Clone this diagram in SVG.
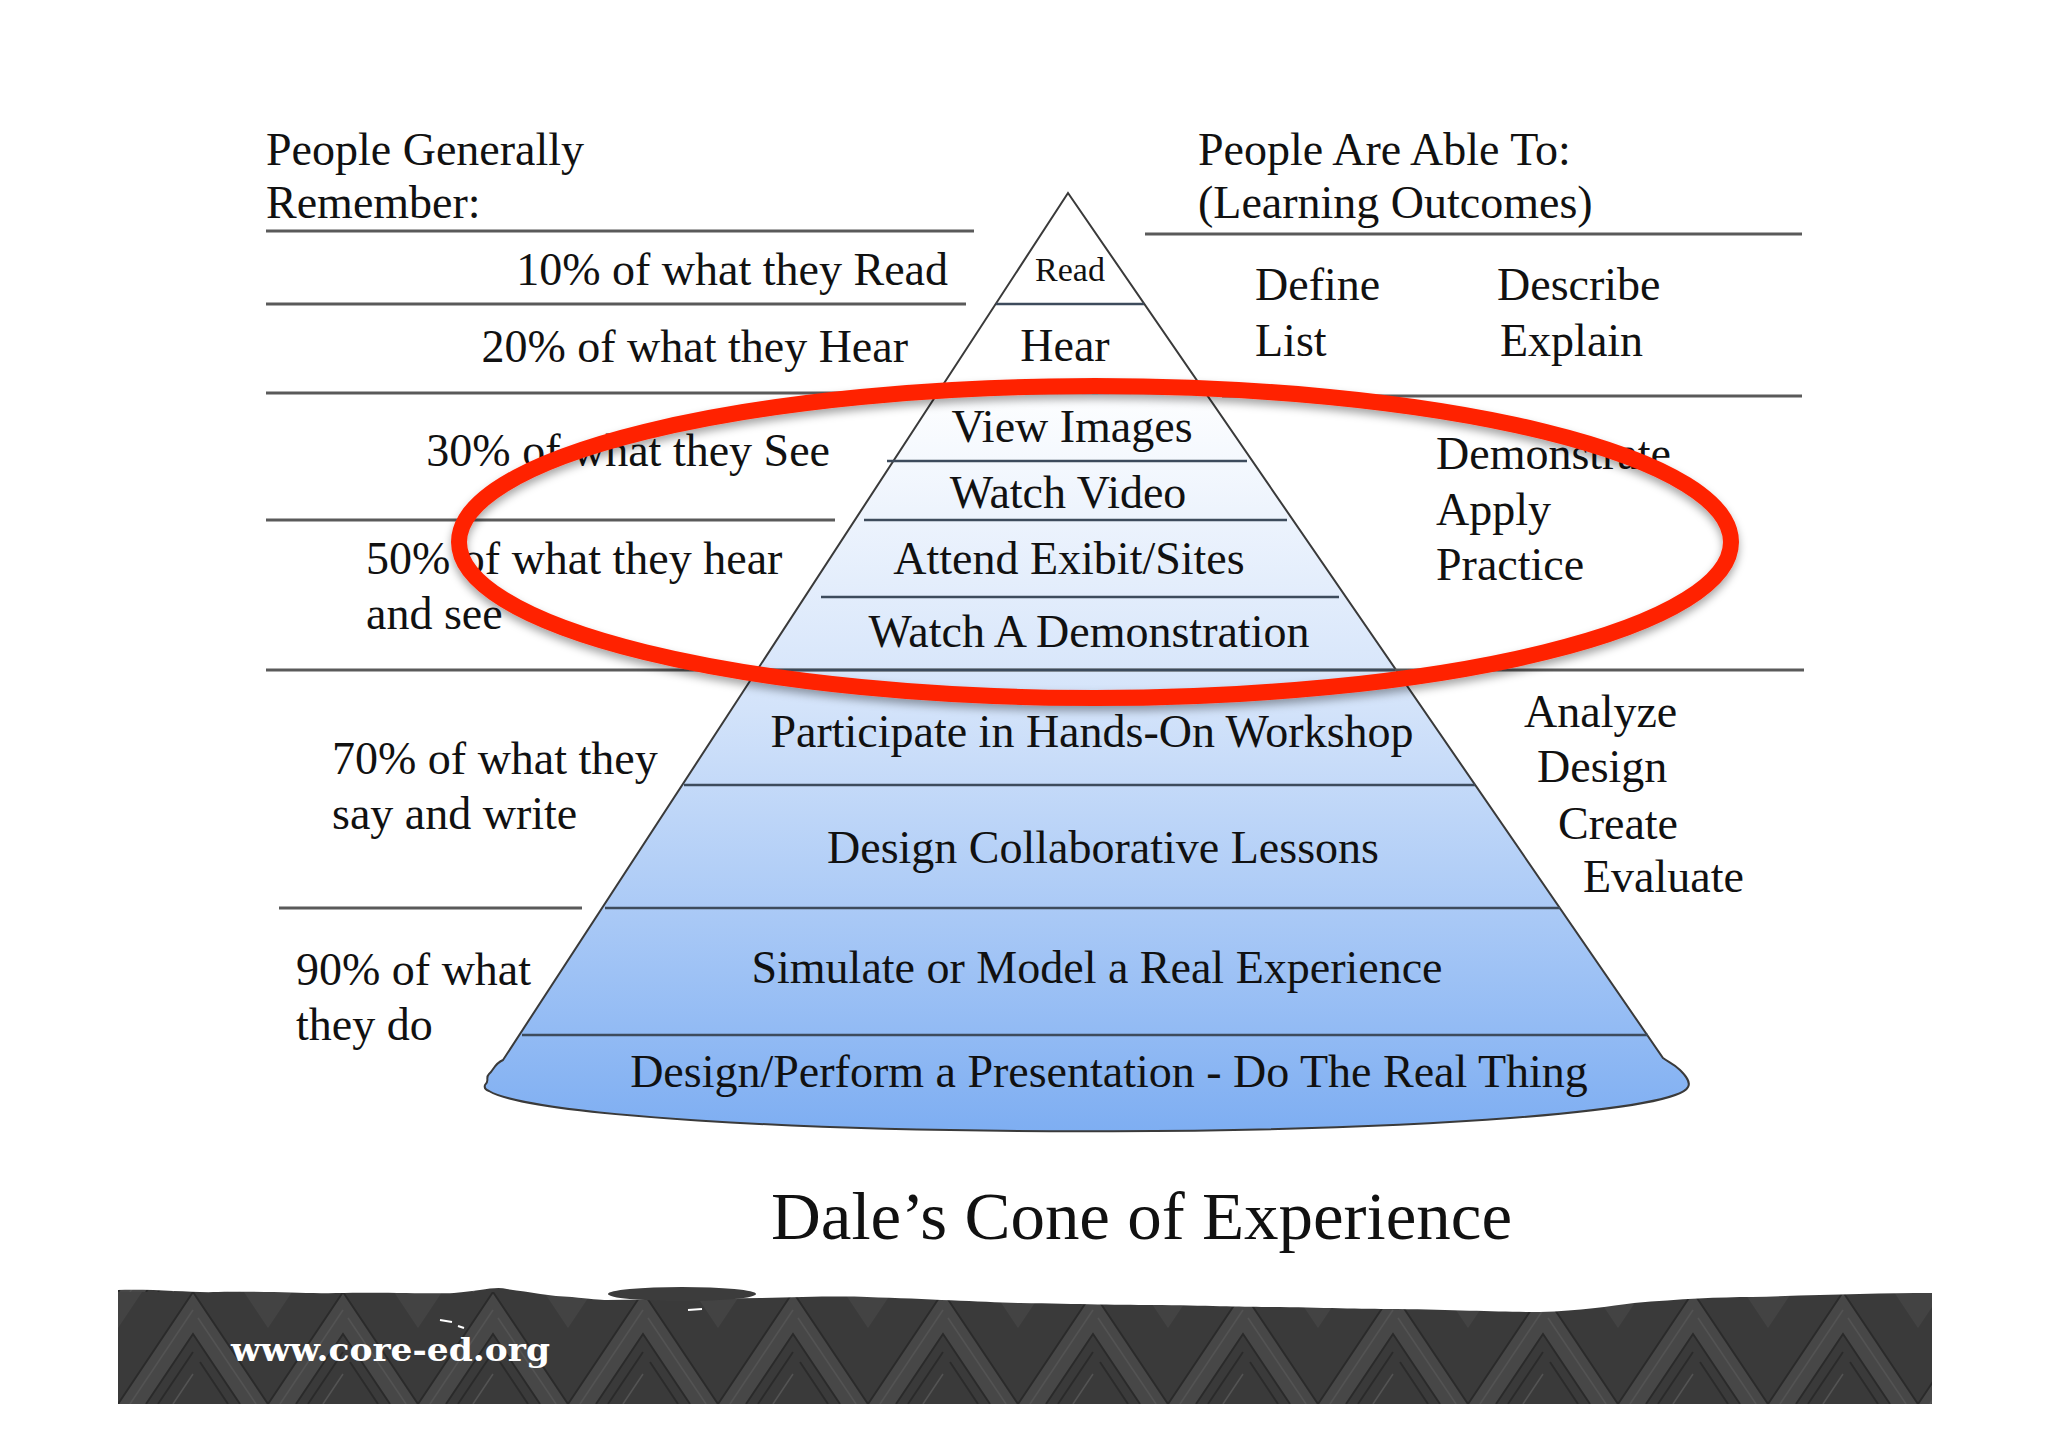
<svg xmlns="http://www.w3.org/2000/svg" width="2048" height="1447" viewBox="0 0 2048 1447">
<defs>
<style>
.t{font-family:"Liberation Serif","Times New Roman",serif;font-size:46px;fill:#111111}
.c{text-anchor:middle}
.e{text-anchor:end}
.rule{stroke:#5a5a5a;stroke-width:3;fill:none}
.band{stroke:#3d4b5c;stroke-width:2.5;fill:none}
</style>
<linearGradient id="coneGrad" gradientUnits="userSpaceOnUse" x1="0" y1="193" x2="0" y2="1131">
<stop offset="0" stop-color="#ffffff"/>
<stop offset="0.2" stop-color="#ffffff"/>
<stop offset="0.55" stop-color="#d3e3fa"/>
<stop offset="1" stop-color="#7eaef2"/>
</linearGradient>
<pattern id="weave" patternUnits="userSpaceOnUse" x="118" y="1292" width="150" height="112">
<rect x="0" y="0" width="150" height="112" fill="#3a3a3a"/>
<polygon points="0,112 75,0 150,112 122,112 75,42 28,112" fill="#474747"/>
<polygon points="0,0 24,0 0,36" fill="#434343"/>
<polygon points="150,0 126,0 150,36" fill="#434343"/>
<path d="M0,112 L75,0 L150,112 M28,112 L75,42 L122,112 M40,112 L75,60 M110,112 L82,70" stroke="#2a2a2a" stroke-width="2" fill="none"/>
<path d="M12,112 L75,18 M138,112 L80,26 M55,112 L75,82" stroke="#535353" stroke-width="1.5" fill="none"/>
</pattern>
<filter id="shadow" x="-10%" y="-20%" width="120%" height="140%">
<feDropShadow dx="0" dy="5" stdDeviation="4" flood-color="#000" flood-opacity="0.35"/>
</filter>
</defs>
<rect x="0" y="0" width="2048" height="1447" fill="#ffffff"/>

<g id="cone">
<path d="M1068,193 L503,1060 C494,1064 494,1070 489,1074 C485,1078 490,1081 485,1085 C484,1088 486,1090 489,1091 A602,46 0 0,0 1688,1087 C1691,1082 1686,1076 1680,1070 C1674,1064 1668,1062 1663,1058 Z" fill="url(#coneGrad)" stroke="#3a3a3a" stroke-width="2"/>
</g>

<g id="connectors">
<line class="rule" x1="266" y1="231" x2="974" y2="231"/>
<line class="rule" x1="266" y1="304" x2="966" y2="304"/>
<line class="rule" x1="266" y1="393" x2="936" y2="393"/>
<line class="rule" x1="266" y1="520" x2="835" y2="520"/>
<line class="rule" x1="266" y1="670" x2="1804" y2="670"/>
<line class="rule" x1="279" y1="908" x2="582" y2="908"/>
<line class="rule" x1="1145" y1="234" x2="1802" y2="234"/>
<line class="rule" x1="1222" y1="396" x2="1802" y2="396"/>
<line class="band" x1="996" y1="304" x2="1144" y2="304" stroke="#444"/>
<line class="band" x1="938" y1="393" x2="1206" y2="393"/>
<line class="band" x1="887" y1="461" x2="1247" y2="461"/>
<line class="band" x1="864" y1="520" x2="1287" y2="520"/>
<line class="band" x1="821" y1="597" x2="1339" y2="597"/>
<line class="band" x1="770" y1="670" x2="1395" y2="670"/>
<line class="band" x1="684" y1="785" x2="1475" y2="785"/>
<line class="band" x1="605" y1="908" x2="1560" y2="908"/>
<line class="band" x1="522" y1="1035" x2="1648" y2="1035"/>
</g>

<g id="left-header"><text class="t" x="266" y="165">People Generally</text><text class="t" x="266" y="218">Remember:</text></g>
<g id="left-10"><text class="t e" x="948" y="285">10% of what they Read</text></g>
<g id="left-20"><text class="t e" x="908" y="362">20% of what they Hear</text></g>
<g id="left-30"><text class="t e" x="830" y="466">30% of what they See</text></g>
<g id="left-50"><text class="t" x="366" y="574">50% of what they hear</text><text class="t" x="366" y="629">and see</text></g>
<g id="left-70"><text class="t" x="332" y="774">70% of what they</text><text class="t" x="332" y="829">say and write</text></g>
<g id="left-90"><text class="t" x="296" y="985">90% of what</text><text class="t" x="296" y="1040">they do</text></g>

<g id="right-header"><text class="t" x="1198" y="165">People Are Able To:</text><text class="t" x="1198" y="218">(Learning Outcomes)</text></g>
<g id="right-1"><text class="t" x="1255" y="300">Define</text><text class="t" x="1255" y="356">List</text><text class="t" x="1497" y="300">Describe</text><text class="t" x="1500" y="356">Explain</text></g>
<g id="right-2"><text class="t" x="1436" y="469">Demonstrate</text><text class="t" x="1436" y="525">Apply</text><text class="t" x="1436" y="580">Practice</text></g>
<g id="right-3"><text class="t" x="1524" y="727">Analyze</text><text class="t" x="1537" y="782">Design</text><text class="t" x="1558" y="839">Create</text><text class="t" x="1583" y="892">Evaluate</text></g>

<g id="level-read"><text class="t c" x="1070" y="281" style="font-size:34px">Read</text></g>
<g id="level-hear"><text class="t c" x="1065" y="361">Hear</text></g>
<g id="level-images"><text class="t c" x="1072" y="442">View Images</text></g>
<g id="level-video"><text class="t c" x="1068" y="508">Watch Video</text></g>
<g id="level-exhibit"><text class="t c" x="1069" y="574">Attend Exibit/Sites</text></g>
<g id="level-demo"><text class="t c" x="1089" y="647">Watch A Demonstration</text></g>
<g id="level-workshop"><text class="t c" x="1092" y="747">Participate in Hands-On Workshop</text></g>
<g id="level-lessons"><text class="t c" x="1103" y="863">Design Collaborative Lessons</text></g>
<g id="level-simulate"><text class="t c" x="1097" y="983">Simulate or Model a Real Experience</text></g>
<g id="level-present"><text class="t c" x="1109" y="1087">Design/Perform a Presentation - Do The Real Thing</text></g>

<g id="highlight">
<ellipse cx="1095" cy="542" rx="636" ry="156" fill="none" stroke="#ff2200" stroke-width="16" filter="url(#shadow)"/>
</g>

<g id="title"><text class="t" x="771" y="1239" style="font-size:67px" textLength="741" lengthAdjust="spacingAndGlyphs">Dale’s Cone of Experience</text></g>

<g id="footer">
<path d="M118,1290 C160,1289 190,1293 218,1292 C280,1291 300,1294 336,1293 C390,1292 430,1294 454,1293 C480,1291 495,1286 507,1289 C530,1292 550,1296 572,1297 C590,1299 600,1300 607,1300 L761,1298 C800,1297 840,1296 867,1297 C930,1299 980,1302 1020,1303 C1080,1304 1120,1305 1162,1305 C1220,1306 1250,1307 1280,1307 C1330,1308 1370,1309 1398,1309 C1460,1310 1500,1312 1540,1312 C1580,1311 1610,1306 1634,1303 C1680,1299 1720,1297 1752,1297 C1820,1295 1880,1293 1932,1293 L1932,1404 L118,1404 Z" fill="url(#weave)"/>
<ellipse cx="682" cy="1294" rx="74" ry="7" fill="#3c3c3c"/>
<path d="M440,1320 L452,1322 M458,1326 L464,1328 M688,1310 L702,1309" stroke="#ffffff" stroke-width="2" fill="none"/>
<text x="231" y="1361" style="font-family:'DejaVu Serif','Liberation Serif',serif;font-size:32px;font-weight:bold;fill:#ffffff" textLength="319" lengthAdjust="spacingAndGlyphs">www.core-ed.org</text>
</g>
</svg>
